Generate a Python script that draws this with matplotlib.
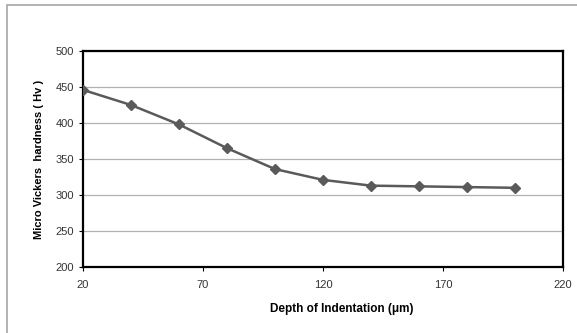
import matplotlib
matplotlib.use("Agg")
import matplotlib.pyplot as plt
from matplotlib.patches import Rectangle

# Data
depth = [20, 40, 60, 80, 100, 120, 140, 160, 180, 200]
hardness = [446, 425, 398, 365, 336, 321, 313, 312, 311, 310]
x_ticks = [20, 70, 120, 170, 220]
y_ticks = [200, 250, 300, 350, 400, 450, 500]

plt.rcParams["font.family"] = ["Liberation Sans", "DejaVu Sans"]

fig = plt.figure(figsize=(5.77, 3.33), dpi=100)
ax = fig.add_axes([83 / 577, 1 - 267 / 333, 480 / 577, 216 / 333])

# outer chart border (only top/left visible in the crop)
fig.patches.append(Rectangle((7 / 577, -0.05), 1.0, 1 - 5 / 333 + 0.05,
                             transform=fig.transFigure, fill=False,
                             edgecolor="#a6a6a6", lw=1.2))

ax.plot(depth, hardness, color="#5a5a5a", lw=1.8, marker="D", ms=5.5,
        mfc="#5a5a5a", mec="#5a5a5a", zorder=3)

ax.set_xlim(20, 220)
ax.set_ylim(200, 500)
ax.set_xticks(x_ticks)
ax.set_yticks(y_ticks)
ax.grid(axis="y", color="#b0b0b0", lw=0.9)
ax.set_axisbelow(True)
for s in ax.spines.values():
    s.set_color("black")
    s.set_linewidth(1.6)
ax.tick_params(axis="both", labelsize=8, colors="black", labelcolor="#333333",
               length=3, width=0.8, direction="out")
ax.tick_params(axis="x", pad=6)

ax.set_xlabel("Depth of Indentation (\u03bcm)", fontsize=8.5, fontweight="heavy")
ax.xaxis.set_label_coords((342 - 83) / 480, -36 / 216)
ax.set_ylabel("Micro Vickers  hardness ( Hv )", fontsize=8, fontweight="heavy",
              labelpad=8)

fig.savefig("out.png", dpi=100)
